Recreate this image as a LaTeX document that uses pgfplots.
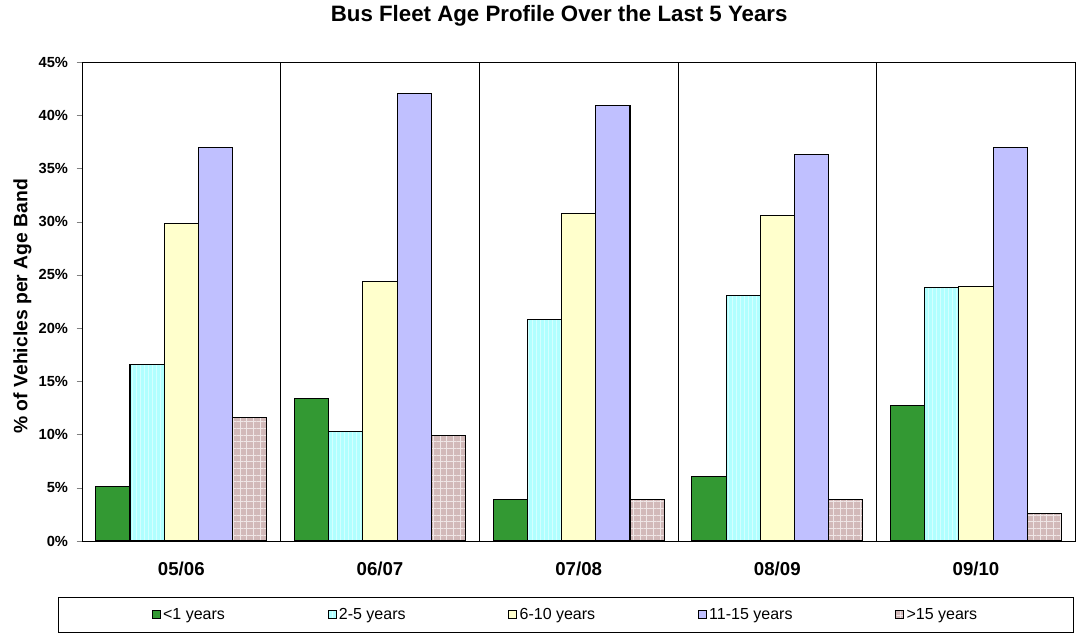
\documentclass[border=0pt]{standalone}
\usepackage{pgfplots}
\pgfplotsset{compat=1.18}
\usepackage{fontspec}
\setmainfont{Liberation Sans}
\usetikzlibrary{patterns.meta}

\definecolor{bandA}{HTML}{339933}
\definecolor{bandB}{HTML}{B0FFFF}
\definecolor{bandC}{HTML}{FFFFCC}
\definecolor{bandD}{HTML}{C0C0FF}
\definecolor{bandE}{HTML}{D2B9B9}

\begin{document}
\begin{tikzpicture}
\useasboundingbox (-61.5pt,-70.5pt) rectangle (746.25pt,405.75pt);
\begin{axis}[
    scale only axis,
    width=745pt,
    height=359.25pt,
    ybar=0pt,
    bar width=25.65pt,
    xmin=-0.5, xmax=4.5,
    ymin=0, ymax=45,
    xtick={0,1,2,3,4},
    xticklabels={05/06,06/07,07/08,08/09,09/10},
    xticklabel style={font=\bfseries\fontsize{14}{16}\selectfont, yshift=-8pt},
    x tick style={draw=none},
    extra x ticks={-0.5,0.5,1.5,2.5,3.5,4.5},
    extra x tick labels={},
    extra x tick style={grid=major, major grid style={black, line width=0.6pt}, tick style={draw=black}},
    ytick={0,5,...,45},
    yticklabels={0\%,5\%,10\%,15\%,20\%,25\%,30\%,35\%,40\%,45\%},
    yticklabel style={font=\bfseries\fontsize{11}{13}\selectfont, xshift=-3pt},
    tick align=outside,
    major tick length=4pt,
    tick pos=left,
    axis line style={black, line width=0.6pt},
    every axis title shift=0pt,
    title={Bus Fleet Age Profile Over the Last 5 Years},
    title style={at={(0.4804,1.097)}, anchor=center, font=\bfseries\fontsize{16.7}{19}\selectfont},
    ylabel={\% of Vehicles per Age Band},
    ylabel style={at={(axis description cs:-0.06,0.49)}, anchor=center, font=\bfseries\fontsize{14.5}{16}\selectfont},
    every axis plot/.append style={draw=black, line width=0.8pt},
    legend columns=5,
    legend style={at={(axis description cs:-0.0241,-0.1169)}, anchor=north west,
        draw=black, line width=0.6pt, font=\fontsize{12}{14}\selectfont,
        inner xsep=70pt, inner ysep=6pt,
        /tikz/every even column/.append style={column sep=75pt}},
    legend image code/.code={\draw[#1, line width=0.5pt] (0pt,-3pt) rectangle (6pt,3pt);},
]
\addplot[fill=bandA] coordinates {(0,5.1) (1,13.4) (2,3.9) (3,6.1) (4,12.7)};
\addplot[fill=bandB, postaction={pattern={Lines[angle=90,distance=3pt,line width=0.5pt]}, pattern color=white!45!bandB}] coordinates {(0,16.6) (1,10.3) (2,20.8) (3,23.1) (4,23.8)};
\addplot[fill=bandC] coordinates {(0,29.8) (1,24.4) (2,30.8) (3,30.6) (4,23.9)};
\addplot[fill=bandD] coordinates {(0,37.0) (1,42.0) (2,40.9) (3,36.3) (4,37.0)};
\addplot[fill=bandE, postaction={pattern={Hatch[angle=0,distance=5pt,line width=0.4pt]}, pattern color=white!65!bandE}] coordinates {(0,11.6) (1,9.9) (2,3.9) (3,3.9) (4,2.6)};
\legend{<1 years,2-5 years,6-10 years,11-15 years,>15 years}
\end{axis}
\end{tikzpicture}
\end{document}
